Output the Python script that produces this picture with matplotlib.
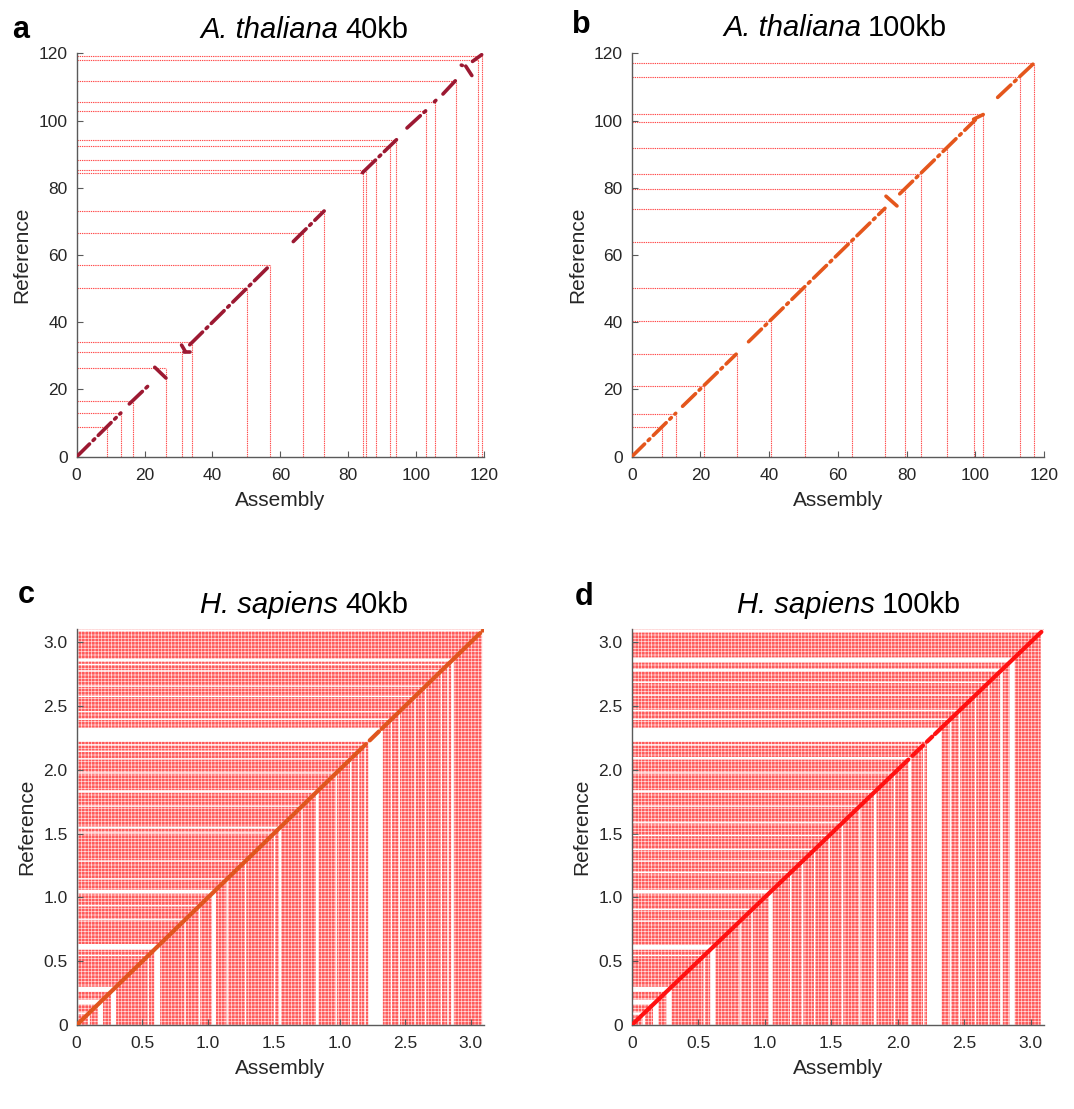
import matplotlib
matplotlib.use("Agg")
import matplotlib.pyplot as plt

plt.rcParams["font.family"] = ["Liberation Sans", "DejaVu Sans"]
plt.rcParams["hatch.linewidth"] = 0.5

# ---- A. thaliana (Mb) ----
# contig ends, drawn as L-shaped guide lines on the diagonal
at40_breaks = [8.9, 13.0, 16.5, 26.4, 31.0, 34.0, 50.3, 56.9, 66.6, 73.0,
               84.3, 85.2, 88.2, 92.3, 94.2, 102.8, 105.6, 111.7, 118.1, 119.3]
at100_breaks = [8.8, 12.8, 21.0, 30.5, 40.5, 50.3, 64.0, 73.8, 79.5, 84.1,
                91.7, 99.5, 102.1, 113.0, 117.0]

# alignment blocks: assembly start/end, reference start/end
at40_x0 = [0.0, 15.5, 23.0, 30.9, 31.5, 33.3, 63.8, 84.2, 97.3, 105.4, 107.9, 113.3, 114.6, 116.6]
at40_x1 = [13.0, 21.2, 26.3, 32.0, 33.3, 57.0, 72.9, 94.2, 102.8, 105.8, 111.6, 113.6, 116.4, 119.3]
at40_y0 = [0.0, 15.7, 26.6, 33.2, 31.0, 33.3, 64.0, 84.5, 97.8, 105.6, 107.9, 116.5, 116.2, 117.6]
at40_y1 = [13.0, 21.2, 23.4, 31.3, 31.0, 57.0, 73.1, 94.3, 102.9, 106.0, 111.9, 116.4, 113.4, 119.6]

at100_x0 = [0.0, 14.8, 34.0, 74.0, 78.0, 99.5, 106.5]
at100_x1 = [12.8, 30.4, 73.7, 77.2, 100.0, 102.3, 117.0]
at100_y0 = [0.0, 15.0, 34.2, 77.5, 78.2, 100.4, 106.9]
at100_y1 = [12.9, 30.5, 73.9, 74.6, 100.2, 101.8, 117.0]

# ---- H. sapiens (Gb) ----
# intervals without contig ends; everything else is densely broken
hs40_gaps = [(0.085, 0.10), (0.16, 0.20), (0.26, 0.30), (0.54, 0.55), (0.59, 0.635),
             (0.82, 0.83), (0.93, 0.94), (1.03, 1.06), (1.14, 1.15), (1.28, 1.29),
             (1.50, 1.51), (1.54, 1.555), (1.71, 1.72), (1.82, 1.84), (1.97, 1.98),
             (2.08, 2.09), (2.14, 2.15), (2.19, 2.20), (2.22, 2.33), (2.39, 2.40),
             (2.45, 2.46), (2.57, 2.58), (2.65, 2.66), (2.77, 2.78), (2.82, 2.83),
             (2.85, 2.87), (3.085, 3.10)]
hs100_gaps = [(0.08, 0.10), (0.16, 0.20), (0.26, 0.30), (0.54, 0.55), (0.59, 0.63),
              (0.81, 0.82), (0.90, 0.91), (1.03, 1.06), (1.19, 1.20), (1.28, 1.29),
              (1.37, 1.38), (1.48, 1.49), (1.58, 1.59), (1.71, 1.72), (1.82, 1.84),
              (1.97, 1.98), (2.08, 2.10), (2.19, 2.20), (2.22, 2.33), (2.39, 2.40),
              (2.46, 2.47), (2.58, 2.59), (2.68, 2.69), (2.77, 2.79), (2.84, 2.88),
              (3.075, 3.10)]

hs40_x0 = [0.0, 2.10, 2.23, 2.32, 3.09]
hs40_x1 = [2.08, 2.20, 2.30, 3.07, 3.10]
hs100_x0 = [0.0, 2.11, 2.22, 2.28]
hs100_x1 = [2.08, 2.19, 2.26, 3.08]

at_ticks = [0, 20, 40, 60, 80, 100, 120]
hs_ticks = [0, 0.5, 1.0, 1.5, 2.0, 2.5, 3.0]
hs_labels = ["0", "0.5", "1.0", "1.5", "2.0", "2.5", "3.0"]
hs40_xlabels = ["0", "0.5", "1.0", "1.5", "1.0", "2.5", "3.0"]

axcol = "#5a5a5a"
txtcol = "#262626"
guide = "#ff2a2a"

W, H = 1074, 1109
fig = plt.figure(figsize=(W / 100, H / 100), dpi=100)
ax_a = fig.add_axes([0.0714, 0.5882, 0.3793, 0.3637])
ax_b = fig.add_axes([0.5882, 0.5882, 0.3839, 0.3637])
ax_c = fig.add_axes([0.0714, 0.0757, 0.3793, 0.3568])
ax_d = fig.add_axes([0.5882, 0.0757, 0.3839, 0.3568])


def style(ax, lim, ticks, xlabels, ylabels):
    ax.set_xlim(0, lim)
    ax.set_ylim(0, lim)
    ax.spines["top"].set_visible(False)
    ax.spines["right"].set_visible(False)
    for s in ["left", "bottom"]:
        ax.spines[s].set_color(axcol)
        ax.spines[s].set_linewidth(1.0)
    ax.set_xticks(ticks)
    ax.set_yticks(ticks)
    ax.set_xticklabels(xlabels)
    ax.set_yticklabels(ylabels)
    ax.tick_params(direction="in", length=4, width=0.8, color=axcol,
                   labelsize=12.5, labelcolor=txtcol)
    ax.tick_params(axis="x", pad=8)
    ax.tick_params(axis="y", pad=6.5)
    ax.set_xlabel("Assembly", fontsize=15, color=txtcol, labelpad=6)
    ax.set_ylabel("Reference", fontsize=15, color=txtcol, labelpad=5)


def draw_breaks(ax, breaks):
    for b in breaks:
        ax.plot([0, b], [b, b], color=guide, lw=0.8, ls=(0, (1.2, 0.8)), alpha=0.85, zorder=1)
        ax.plot([b, b], [0, b], color=guide, lw=0.8, ls=(0, (1.2, 0.8)), alpha=0.85, zorder=1)


def draw_blocks(ax, x0, x1, y0, y1, color, lw=2.6, dash=(0, (5, 1.4, 0.6, 1.4))):
    for i in range(len(x0)):
        ax.plot([x0[i], x1[i]], [y0[i], y1[i]], color=color, lw=lw, ls=dash,
                dash_capstyle="round", solid_capstyle="round", zorder=3)


def draw_dense(ax, gaps, lim):
    # upper-left: horizontal guides, lower-right: vertical guides
    kw = dict(facecolor="#ff5a5a", edgecolor="#ffd9d9", hatch="+++++", linewidth=0, zorder=1)
    ax.fill([0, lim, 0], [0, lim, lim], **kw)
    ax.fill([0, lim, lim], [0, 0, lim], **kw)
    for lo, hi in gaps:
        ax.fill([0, lo, hi, 0], [lo, lo, hi, hi], color="white", lw=0, zorder=2)
        ax.fill([lo, hi, hi, lo], [0, 0, hi, lo], color="white", lw=0, zorder=2)


# a
draw_breaks(ax_a, at40_breaks)
draw_blocks(ax_a, at40_x0, at40_x1, at40_y0, at40_y1, "#9c1932")
style(ax_a, 120, at_ticks, at_ticks, at_ticks)

# b
draw_breaks(ax_b, at100_breaks)
draw_blocks(ax_b, at100_x0, at100_x1, at100_y0, at100_y1, "#e4561c")
style(ax_b, 120, at_ticks, at_ticks, at_ticks)

# c
draw_dense(ax_c, hs40_gaps, 3.1)
draw_blocks(ax_c, hs40_x0, hs40_x1, hs40_x0, hs40_x1, "#e0561e", lw=3.0, dash="-")
style(ax_c, 3.1, hs_ticks, hs40_xlabels, hs_labels)

# d
draw_dense(ax_d, hs100_gaps, 3.1)
draw_blocks(ax_d, hs100_x0, hs100_x1, hs100_x0, hs100_x1, "#ff1212", lw=3.0, dash="-")
style(ax_d, 3.1, hs_ticks, hs_labels, hs_labels)

# titles: italic species name followed by upright window size
renderer = fig.canvas.get_renderer()
titles = [(200, 38, "A. thaliana", "40kb"),
          (723, 36, "A. thaliana", "100kb"),
          (200, 613, "H. sapiens", "40kb"),
          (737, 613, "H. sapiens", "100kb")]
for x, y, sp, kb in titles:
    t1 = fig.text(x / W, 1 - y / H, sp, ha="left", va="baseline", fontsize=21,
                  style="italic", color="black")
    bb = t1.get_window_extent(renderer)
    fig.text(bb.x1 / W + 7 / W, 1 - y / H, kb, ha="left", va="baseline", fontsize=21,
             color="black")

letters = [(12, 38, "a"), (572, 33, "b"), (18, 603, "c"), (575, 605, "d")]
for x, y, t in letters:
    fig.text(x / W, 1 - y / H, t, ha="left", va="baseline", fontsize=22,
             fontweight="bold", color="black")

fig.savefig("out.png", dpi=100)
